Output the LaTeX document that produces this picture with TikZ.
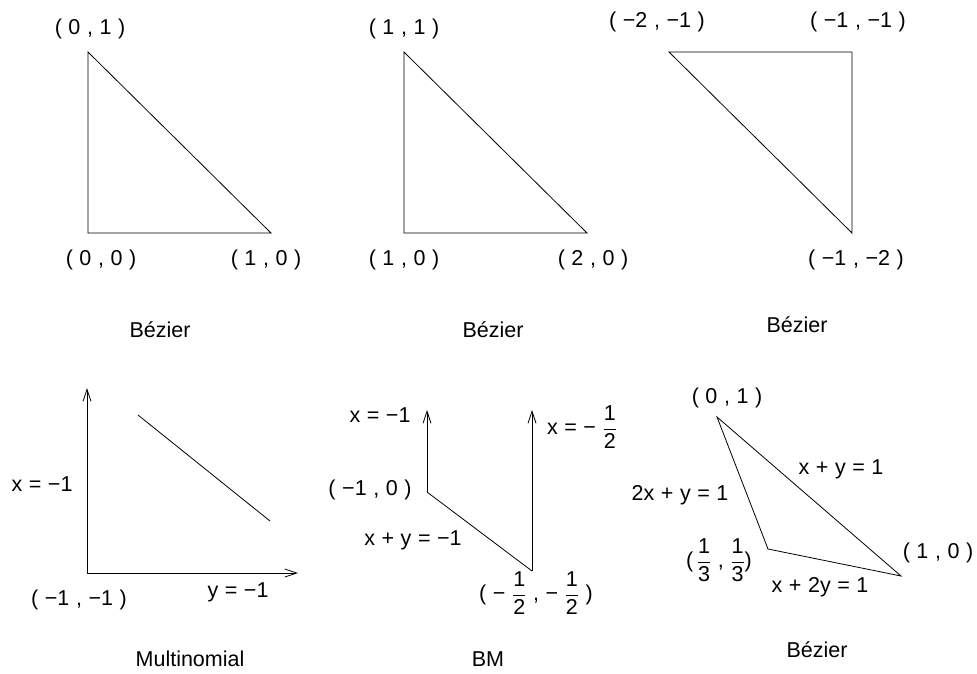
\documentclass[tikz,border=0pt]{standalone}
\usepackage{amsmath}
\usepackage{fontspec}
\setmainfont[WordSpace=1.1]{Liberation Sans}
\usetikzlibrary{arrows.meta}
\newcommand{\fr}[2]{\ensuremath{\genfrac{}{}{0.7pt}{0}{\mbox{#1}}{\mbox{#2}}}}
\begin{document}
\begin{tikzpicture}[x=1pt,y=-1pt,
  lbl/.style={inner sep=0pt,font=\fontsize{21.5}{24}\selectfont},
  edge/.style={line width=0.8pt},
  axis/.style={line width=0.8pt,-{Straight Barb[length=12pt,width=8pt]}}]
\useasboundingbox (0,0) rectangle (977,673);
% ---------- Panel 1
\coordinate (a1) at (88,52);
\coordinate (a2) at (88,233);
\coordinate (a3) at (271,233);
\draw[edge] (a1) -- (a2) -- (a3) -- cycle;
\node[lbl] (a1l) at (90,29) {( 0 , 1 )};
\node[lbl] (a2l) at (101,260) {( 0 , 0 )};
\node[lbl] (a3l) at (266,260) {( 1 , 0 )};
\node[lbl] (a4l) at (160,330) {Bézier};
% ---------- Panel 2
\coordinate (b1) at (404,52);
\coordinate (b2) at (404,233);
\coordinate (b3) at (587,233);
\draw[edge] (b1) -- (b2) -- (b3) -- cycle;
\node[lbl] (b1l) at (404,29) {( 1 , 1 )};
\node[lbl] (b2l) at (404,260) {( 1 , 0 )};
\node[lbl] (b3l) at (593,260) {( 2 , 0 )};
\node[lbl] (b4l) at (493,330) {Bézier};
% ---------- Panel 3
\coordinate (c1) at (669,52);
\coordinate (c2) at (852,52);
\coordinate (c3) at (852,233);
\draw[edge] (c1) -- (c2) -- (c3) -- cycle;
\node[lbl] (c1l) at (657,22) {( −2 , −1 )};
\node[lbl] (c2l) at (858,22) {( −1 , −1 )};
\node[lbl] (c3l) at (856,260) {( −1 , −2 )};
\node[lbl] (c4l) at (797,325) {Bézier};
% ---------- Panel 4
\coordinate (d0) at (87,573);
\coordinate (dy) at (87,388);
\coordinate (dx) at (298,573);
\coordinate (dl1) at (138,415);
\coordinate (dl2) at (270,521);
\draw[axis] (d0) -- (dy);
\draw[axis] (d0) -- (dx);
\draw[edge] (dl1) -- (dl2);
\node[lbl] (d1l) at (42,484) {x = −1};
\node[lbl] (d2l) at (79,600) {( −1 , −1 )};
\node[lbl] (d3l) at (238,592) {y = −1};
\node[lbl] (d4l) at (190,659) {Multinomial};
% ---------- Panel 5
\coordinate (e1) at (427,492);
\coordinate (e1t) at (427,410);
\coordinate (e2) at (532,571);
\coordinate (e2t) at (532,410);
\draw[axis] (e1) -- (e1t);
\draw[axis] (e2) -- (e2t);
\draw[edge] (e1) -- (e2);
\node[lbl] (e1l) at (380,415) {x = −1};
\node[lbl] (e2l) at (370,490) {( −1 , 0 )};
\node[lbl] (e3l) at (413,540) {x + y = −1};
\node[lbl] (e4l) at (582,427) {x = − \fr{1}{2}};
\node[lbl] (e5l) at (536,593) {( − \fr{1}{2} , − \fr{1}{2} )};
\node[lbl] (e6l) at (488,659) {BM};
% ---------- Panel 6
\coordinate (f1) at (717,417);
\coordinate (f2) at (768,549);
\coordinate (f3) at (901,576);
\draw[edge] (f1) -- (f2) -- (f3) -- cycle;
\node[lbl] (f1l) at (727,398) {( 0 , 1 )};
\node[lbl] (f2l) at (841,469) {x + y = 1};
\node[lbl] (f3l) at (680,495) {2x + y = 1};
\node[lbl] (f4l) at (719,560) {(\,\fr{1}{3} , \fr{1}{3})};
\node[lbl] (f5l) at (938,553) {( 1 , 0 )};
\node[lbl] (f6l) at (820,587) {x + 2y = 1};
\node[lbl] (f7l) at (817,650) {Bézier};
\end{tikzpicture}
\end{document}
